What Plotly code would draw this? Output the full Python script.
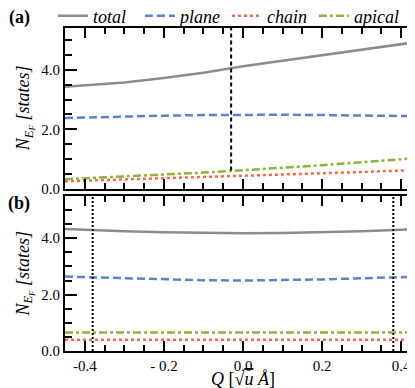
import plotly.graph_objects as go

# ------------------------------------------------------------
# data (Q in sqrt(u)*Angstrom, N_EF in states)
# ------------------------------------------------------------
q = [-0.45, -0.4, -0.3, -0.2, -0.1, 0.0, 0.1, 0.2, 0.3, 0.4, 0.45]

# (a)
a_total = [3.43, 3.47, 3.57, 3.72, 3.90, 4.12, 4.30, 4.50, 4.68, 4.86, 4.95]
a_plane = [2.38, 2.40, 2.43, 2.46, 2.48, 2.49, 2.49, 2.48, 2.47, 2.45, 2.44]
a_chain = [0.26, 0.28, 0.31, 0.35, 0.40, 0.44, 0.48, 0.52, 0.57, 0.62, 0.64]
a_apical = [0.33, 0.36, 0.42, 0.48, 0.55, 0.63, 0.71, 0.80, 0.90, 1.00, 1.05]

# (b)
b_total = [4.33, 4.30, 4.25, 4.21, 4.19, 4.18, 4.19, 4.21, 4.25, 4.30, 4.33]
b_plane = [2.64, 2.62, 2.58, 2.54, 2.51, 2.50, 2.51, 2.54, 2.58, 2.62, 2.64]
b_chain = [0.40] * len(q)
b_apical = [0.66] * len(q)

q_mark_a = [-0.03]          # dashed marker in (a)
q_mark_b = [-0.38, 0.38]    # dotted markers in (b)
mark_a_span = [0.62, 5.4]
mark_b_span = [0.0, 5.5]

tick_vals = [-0.4, -0.2, 0.0, 0.2, 0.4]
tick_text = ["-0.4", "- 0.2", "0.0", "0.2", "0.4"]

names = ["total", "plane", "chain", "apical"]
colors = ["#8c8c8c", "#5b84c6", "#f26a45", "#8db33c"]
dashes = ["solid", "8px,4px", "3px,3px", "8px,3px,3px,3px"]

SERIF = "Liberation Serif"

fig = go.Figure()

for i, (ya, yb) in enumerate(zip([a_total, a_plane, a_chain, a_apical],
                                 [b_total, b_plane, b_chain, b_apical])):
    line = dict(color=colors[i], width=2.5, dash=dashes[i])
    fig.add_trace(go.Scatter(x=q, y=ya, mode="lines", name=names[i],
                             line=line, xaxis="x", yaxis="y"))
    fig.add_trace(go.Scatter(x=q, y=yb, mode="lines", name=names[i],
                             line=line, showlegend=False, xaxis="x2", yaxis="y2"))

# vertical markers
for qm in q_mark_a:
    fig.add_trace(go.Scatter(x=[qm, qm], y=mark_a_span, mode="lines", showlegend=False,
                             line=dict(color="black", width=2, dash="4px,3px"),
                             xaxis="x", yaxis="y"))
for qm in q_mark_b:
    fig.add_trace(go.Scatter(x=[qm, qm], y=mark_b_span, mode="lines", showlegend=False,
                             line=dict(color="black", width=2, dash="2px,2px"),
                             xaxis="x2", yaxis="y2"))

# ------------------------------------------------------------
# axes
# ------------------------------------------------------------
xcommon = dict(range=[-0.45, 0.45], tickmode="array", tickvals=tick_vals,
               ticks="inside", ticklen=10, tickwidth=2, tickcolor="black",
               showline=True, linecolor="black", linewidth=2, mirror="ticks",
               showgrid=False, zeroline=False,
               minor=dict(dtick=0.05, tick0=0, ticks="inside", ticklen=6,
                          tickwidth=1.5, tickcolor="black", showgrid=False),
               tickfont=dict(family=SERIF, size=15, color="black"))
ycommon = dict(dtick=2, tick0=0, tickformat=".1f",
               ticks="inside", ticklen=12, tickwidth=2, tickcolor="black",
               showline=True, linecolor="black", linewidth=2, mirror="ticks",
               showgrid=False, zeroline=False,
               minor=dict(dtick=0.5, tick0=0, ticks="inside", ticklen=7,
                          tickwidth=1.5, tickcolor="black", showgrid=False),
               tickfont=dict(family=SERIF, size=15, color="black"))

fig.update_layout(
    xaxis=dict(xcommon, domain=[0, 1], anchor="y", showticklabels=False),
    yaxis=dict(ycommon, domain=[0.5015, 1], anchor="x", range=[0, 5.4]),
    xaxis2=dict(xcommon, domain=[0, 1], anchor="y2", ticktext=tick_text),
    yaxis2=dict(ycommon, domain=[0, 0.48], anchor="x2", range=[0, 5.5]),
)

# ------------------------------------------------------------
# text
# ------------------------------------------------------------
ylab = "<i>N<sub>E<sub>F</sub></sub></i> <i>[states]</i>"
ann = [
    dict(text=ylab, x=-0.112, y=0.752, textangle=-90),
    dict(text=ylab, x=-0.112, y=0.24, textangle=-90),
    dict(text="<i>Q</i> [√<span style='text-decoration:overline'><i>u</i></span> <i>Å</i>]",
         x=0.5, y=-0.125, yanchor="bottom"),
    dict(text="<b>(a)</b>", x=-0.129, y=1.031),
    dict(text="<b>(b)</b>", x=-0.129, y=0.458),
]
for a in ann:
    a.setdefault("yanchor", "middle")
    fig.add_annotation(xref="paper", yref="paper", showarrow=False, xanchor="center",
                       font=dict(family=SERIF, size=18, color="black"), **a)

fig.update_layout(
    width=415, height=388,
    margin=dict(l=57, r=2, t=20, b=45, autoexpand=False),
    paper_bgcolor="white", plot_bgcolor="white",
    showlegend=True,
    legend=dict(orientation="h", x=-0.034, xanchor="left", y=1.037, yanchor="middle",
                entrywidth=42, entrywidthmode="pixels",
                font=dict(family=SERIF, size=18, color="black", style="italic"),
                bgcolor="rgba(0,0,0,0)", borderwidth=0),
    font=dict(family=SERIF, color="black"),
)

fig.write_html("out.html")
